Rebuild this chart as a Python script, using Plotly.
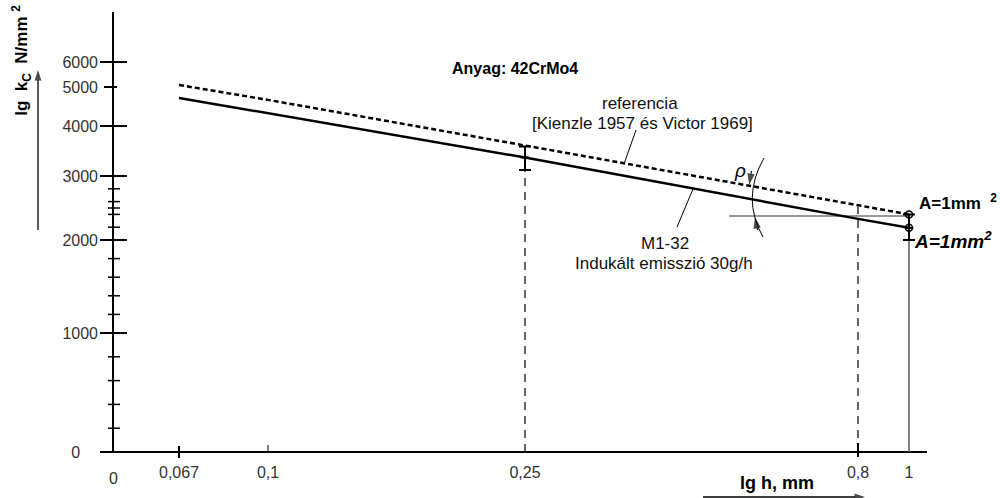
import numpy as np
import plotly.graph_objects as go

# ---------------- data ----------------
h_vals = [0.067, 0.1, 0.25, 0.8, 1.0]             # lg h, mm
kc_m132 = [4720, 4330, 3370, 2330, 2190]          # M1-32, induced emission 30 g/h
kc_ref = [5080, 4670, 3610, 2540, 2400]           # reference (Kienzle 1957, Victor 1969)

err_h = [0.25, 1.0]
err_center = [3370, 2190]
err_high = [3590, 2400]
err_low = [3120, 2000]

end_h = [1.0, 1.0]
end_kc = [2400, 2190]

guide_h = [0.25, 0.8]
guide_top = [3120, 2520]
solid_guide_h = [1.0]
solid_guide_top = [2000]
angle_line_h = [0.51, 1.0]
angle_line_kc = [2375, 2375]

y_tick_vals = [0, 1000, 2000, 3000, 4000, 5000, 6000]
y_tick_text = ["0\u00a0\u00a0\u00a0\u00a0", "1000", "2000", "3000", "4000", "5000", "6000"]
y_minor_vals = [200, 400, 600, 800, 1200, 1400, 1600, 1800, 2200, 2400, 2500, 2600, 2800]
x_tick_vals = [0.067, 0.1, 0.25, 0.8, 1.0]
x_tick_text = ["0,067", "0,1", "0,25", "0,8", "1"]

# ---------------- hand-drawn scale calibration ----------------
Y_CAL = [0, 119, 212, 276, 326, 365, 390]   # axis units for y_tick_vals
X_CAL = [66, 155, 412, 745, 796]            # axis units for x_tick_vals


def py(kc):
    return np.interp(np.asarray(kc, dtype=float), y_tick_vals, Y_CAL)


def px(h):
    return np.interp(np.log10(np.asarray(h, dtype=float)), np.log10(x_tick_vals), X_CAL)


FONT = "Liberation Sans, Arial, sans-serif"
BLACK = "#000000"
GREY_TXT = "#333333"

fig = go.Figure()


def seg(x, y, color=BLACK, width=1.0, dash=None):
    fig.add_trace(go.Scatter(x=x, y=y, mode="lines",
                             line=dict(color=color, width=width, dash=dash),
                             hoverinfo="skip", showlegend=False))


def arrow(x, y, size=10, width=1.3):
    fig.add_trace(go.Scatter(x=x, y=y, mode="lines+markers",
                             line=dict(color=BLACK, width=width),
                             marker=dict(symbol="arrow", size=[0] * (len(x) - 1) + [size],
                                         angleref="previous", color=BLACK,
                                         line=dict(width=0)),
                             hoverinfo="skip", showlegend=False))


# axis lines
seg([0, 0], [-1, 440], width=2)
seg([-13, 814], [0, 0], width=2)

# y major ticks
tx, ty = [], []
for v in y_tick_vals:
    if v == 0:
        continue
    y = float(py(v))
    tx += ([-9, 4, None] if v == 5000 else [-13, 14, None])
    ty += [y, y, None]
seg(tx, ty, width=2)
# y minor ticks
mx, my = [], []
for v in y_minor_vals:
    y = float(py(v))
    mx += [-5, 7, None]
    my += [y, y, None]
seg(mx, my, width=1.5)
# x ticks
x067 = float(px(0.067))
x01 = float(px(0.1))
x08 = float(px(0.8))
seg([x067, x067, None, x08, x08], [6, -6, None, 9, -5], width=2)
seg([x01, x01], [0, 7], width=1)

# dashed guide lines
for hh, top in zip(guide_h, guide_top):
    seg([float(px(hh))] * 2, [0, float(py(top))], width=1.2, dash="8px,6px")
for hh, top in zip(solid_guide_h, solid_guide_top):
    seg([float(px(hh))] * 2, [0, float(py(top))], color="#555555", width=1.5)
# horizontal reference line for angle rho
seg(list(px(angle_line_h)), list(py(angle_line_kc)), color="#333333", width=1)

# reference line (dashed)
fig.add_trace(go.Scatter(x=px(h_vals), y=py(kc_ref), mode="lines",
                         line=dict(color=BLACK, width=2.5, dash="5px,3px"),
                         name="referencia", showlegend=False))
# M1-32 line (solid)
fig.add_trace(go.Scatter(x=px(h_vals), y=py(kc_m132), mode="lines",
                         line=dict(color=BLACK, width=2.5),
                         name="M1-32", showlegend=False))

# error bars
ec = py(err_center)
fig.add_trace(go.Scatter(
    x=px(err_h), y=ec, mode="markers",
    marker=dict(symbol="line-ew", size=6, color=BLACK, line=dict(width=2, color=BLACK)),
    error_y=dict(type="data", symmetric=False,
                 array=list(py(err_high) - ec), arrayminus=list(ec - py(err_low)),
                 color=BLACK, thickness=2, width=6),
    hoverinfo="skip", showlegend=False))

# end markers (open circles)
fig.add_trace(go.Scatter(x=px(end_h), y=py(end_kc), mode="markers",
                         marker=dict(symbol="circle-open", size=7, color=BLACK,
                                     line=dict(width=1.5, color=BLACK)),
                         hoverinfo="skip", showlegend=False))

# rho angle arc
fig.add_shape(type="path", xref="x", yref="y",
              path="M 651 294 Q 628 254 650 215",
              line=dict(color=BLACK, width=1))
arrow([638.5, 636.2], [281, 267], size=12, width=1)
arrow([644.5, 642], [222, 235], size=12, width=1)

# leader lines
seg([523, 511], [322, 288], width=1)
seg([580, 564], [263, 225], width=1)

# axis arrows
arrow([-75, -75], [222, 382], size=11, width=1.3)
arrow([590, 752], [-45, -45], size=11, width=1.3)

anns = []


def ann(x, y, text, size=14, color="#111111", **kw):
    d = dict(x=x, y=y, xref="x", yref="y", text=text, showarrow=False,
             font=dict(family=FONT, size=size, color=color))
    d.update(kw)
    anns.append(d)


ann(402, 384, "<b>Anyag: 42CrMo4</b>", size=16, color=BLACK)
ann(527, 349, "referencia", size=17)
ann(529, 329, "[Kienzle 1957 és Victor 1969]", size=17)
ann(552, 209, "M1-32", size=17)
ann(551, 189, "Indukált emisszió 30g/h", size=17)
ann(804, 250, "<b>A=1mm  <sup>2</sup></b>", size=17, color=BLACK, xanchor="left")
ann(799, 212, "<b><i>A=1mm<sup>2</sup></i></b>", size=19, color=BLACK, xanchor="left")
ann(627, 282, "<i>ρ</i>", size=19, color=BLACK)
ann(664, -31, "<b>lg h, mm</b>", size=18, color=BLACK)
ann(0, -26, "0", size=16, color=GREY_TXT)

# y-axis title
anns.append(dict(x=0.022, y=0.878, xref="paper", yref="paper", textangle=-90,
                 xanchor="center", yanchor="middle",
                 text="<b>lg  k<sub>C</sub>  N/mm <sup>2</sup></b>", showarrow=False,
                 font=dict(family=FONT, size=17, color=BLACK)))

fig.update_layout(
    width=1000, height=498, margin=dict(l=0, r=0, t=0, b=0),
    paper_bgcolor="white", plot_bgcolor="white",
    font=dict(family=FONT),
    annotations=anns,
    showlegend=False,
    xaxis=dict(range=[-113, 887], domain=[0, 1], showgrid=False, zeroline=False,
               showline=False, ticks="", tickvals=list(px(x_tick_vals)), ticktext=x_tick_text,
               tickfont=dict(family=FONT, size=16, color=GREY_TXT),
               anchor="free", position=46 / 498, ticklabelstandoff=9, fixedrange=True),
    yaxis=dict(range=[-46, 452], domain=[0, 1], showgrid=False, zeroline=False,
               showline=False, ticks="", tickvals=list(py(y_tick_vals)), ticktext=y_tick_text,
               tickfont=dict(family=FONT, size=16, color=GREY_TXT),
               anchor="free", position=113 / 1000, ticklabelstandoff=15, fixedrange=True),
)

fig.write_html("out.html")
